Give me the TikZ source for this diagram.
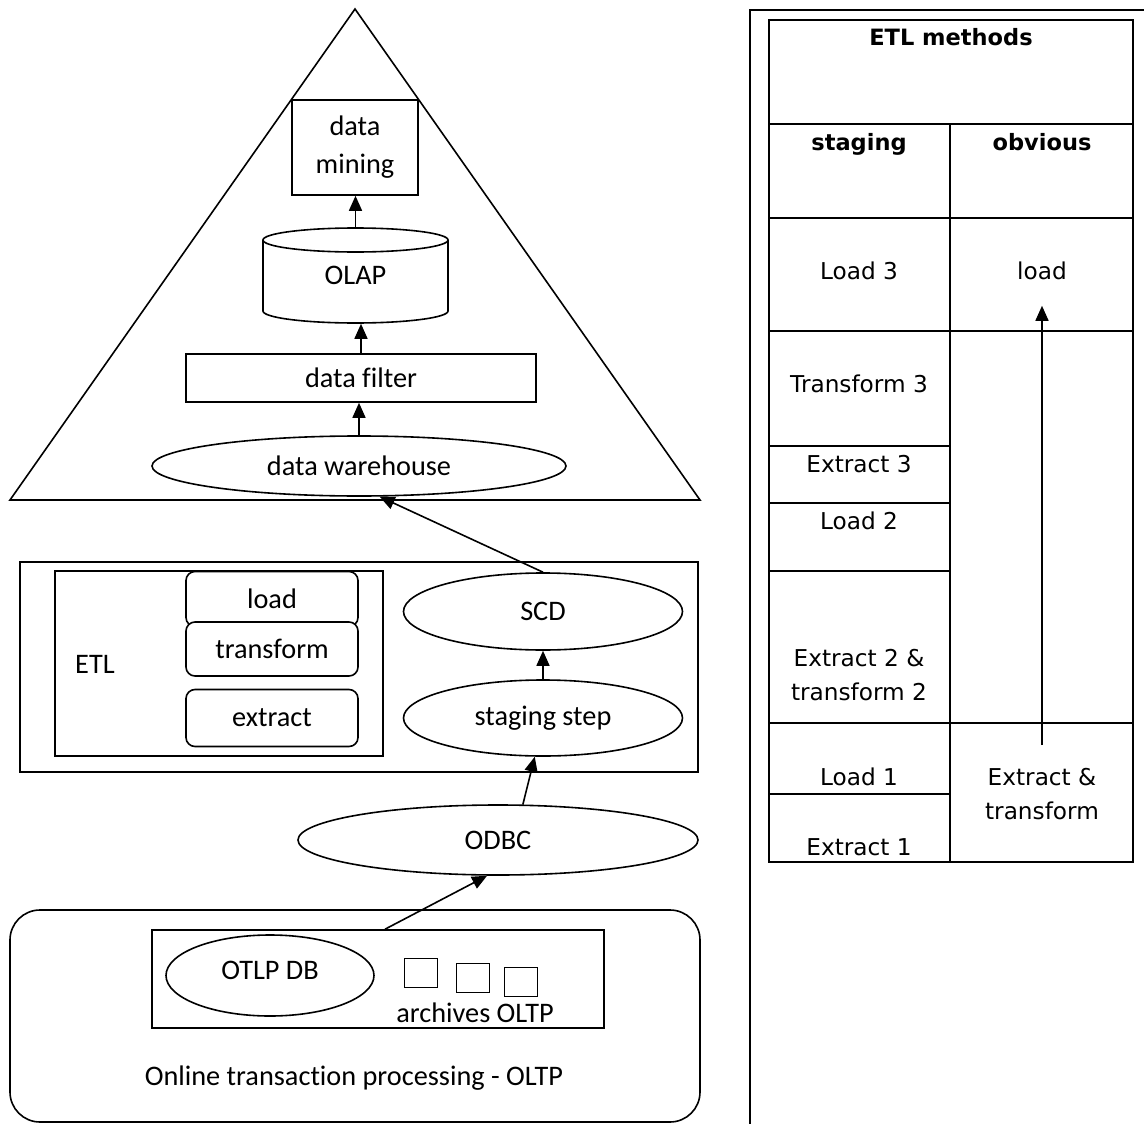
\documentclass[tikz,border=0pt]{standalone}
\usepackage{fontspec}
\setmainfont{Carlito}[Ligatures=NoCommon]
\newfontfamily\tabfont{DejaVu Sans}
\usetikzlibrary{arrows.meta,shapes.geometric}

\begin{document}
\begin{tikzpicture}[x=1pt,y=-1pt,
  line width=1.6pt,
  every node/.style={font=\fontsize{28.3}{38}\selectfont},
  box/.style={draw, rectangle, inner sep=0pt},
  oval/.style={draw, ellipse, inner sep=0pt},
  rbox/.style={draw, rounded corners=9pt, fill=white, inner sep=0pt, minimum width=172pt},
  arr/.style={-{Triangle[width=13pt,length=15pt]}},
  tab/.style={font=\tabfont\fontsize{23.2}{34}\selectfont, align=center},
  tabhead/.style={font=\tabfont\bfseries\fontsize{22.5}{34}\selectfont, text height=16pt, text depth=5pt},
]
\useasboundingbox (0,0) rectangle (1144,1124);

% ---- analysis pyramid ----
\draw (355,9) -- (700,500) -- (10,500) -- cycle;
\node[box, minimum width=126pt, minimum height=95pt, align=center] (mining) at (355,147.5) {\raisebox{-3pt}{data}\\\raisebox{-3pt}{mining}};
\node[inner sep=0pt, minimum width=185pt, minimum height=95pt] (olap) at (355.5,275.5) {OLAP};
\draw (355.5,240) ellipse [x radius=92.5, y radius=12];
\draw (263,240) -- (263,311) arc[start angle=180, end angle=0, x radius=92.5, y radius=12] -- (448,240);
\node[box, minimum width=350pt, minimum height=48pt] (filter) at (361,378) {data filter};
\node[oval, minimum width=414pt, minimum height=60pt] (wh) at (359,466) {data warehouse};

\draw[arr] (wh.north) -- (wh.north |- filter.south);
\draw[arr] (filter.north) -- (filter.north |- olap.south);
\draw[arr] (olap.north) -- (olap.north |- mining.south);

% ---- ETL stage ----
\node[box, minimum width=678pt, minimum height=210pt] (etlout) at (359,667) {};
\node[box, minimum width=328pt, minimum height=185pt] (etlin) at (219,663.5) {};
\node (etl) at (95,664) {ETL};
\node[rbox, minimum height=55pt] (load) at (272,599) {load};
\node[rbox, minimum height=54pt] (transform) at (272,649) {transform};
\node[rbox, minimum height=57pt] (extract) at (272,718) {extract};
\node[oval, minimum width=279pt, minimum height=77pt] (scd) at (543,611.5) {SCD};
\node[oval, minimum width=279pt, minimum height=76pt] (stage) at (543,718) {staging step};

\draw[arr] (stage.north) -- (scd.south);
\draw[arr] (scd.north) -- (wh.-56);

% ---- ODBC ----
\node[oval, minimum width=400pt, minimum height=70pt] (odbc) at (498,840) {ODBC};
\draw[arr] (odbc.55) -- (stage.-102);

% ---- OLTP ----
\node[draw, rounded corners=30pt, minimum width=690pt, minimum height=212pt] (oltp) at (355,1016) {};
\node[box, minimum width=452pt, minimum height=98pt] (oltpin) at (378,979) {};
\node[oval, minimum width=208pt, minimum height=81pt] (db) at (270,975.5) {};
\node (dbtext) at (270,970) {OTLP DB};
\node[box, minimum width=33pt, minimum height=29pt] (arc1) at (421,973) {};
\node[box, minimum width=33pt, minimum height=29pt] (arc2) at (473,978) {};
\node[box, minimum width=33pt, minimum height=29pt] (arc3) at (521,982) {};
\node (archives) at (475,1013) {archives OLTP};
\node (oltptext) at (354,1078) {Online transaction processing - OLTP};
\draw[arr] ([xshift=7pt]oltpin.north) -- (odbc.-107);

% ---- ETL methods table ----
\draw (750,1124) -- (750,10) -- (1144,10);
\draw (769,20) rectangle (1133,862);
\draw (769,124) -- (1133,124);
\draw (950,124) -- (950,862);
\draw (769,218) -- (1133,218);
\draw (769,331) -- (1133,331);
\draw (769,446) -- (950,446);
\draw (769,503) -- (950,503);
\draw (769,571) -- (950,571);
\draw (769,723) -- (1133,723);
\draw (769,794) -- (950,794);

\node[tabhead] (title) at (951,40) {ETL methods};
\node[tabhead] (hstaging) at (859,145) {staging};
\node[tabhead] (hobvious) at (1042,145) {obvious};
\node[tab] (l3) at (859,271) {Load 3};
\node[tab, minimum height=68pt, inner sep=0pt] (obload) at (1042,271) {load};
\node[tab] (t3) at (859,384) {Transform 3};
\node[tab] (e3) at (859,464) {Extract 3};
\node[tab] (l2) at (859,521) {Load 2};
\node[tab] (e2) at (859,675) {Extract 2 \&\\transform 2};
\node[tab] (l1) at (859,777) {Load 1};
\node[tab] (e1) at (859,847) {Extract 1};
\node[tab] (obet) at (1042,794) {Extract \&\\transform};
\coordinate (etstart) at (1042,745);
\draw[arr] (etstart) -- (obload.south);
\end{tikzpicture}
\end{document}
